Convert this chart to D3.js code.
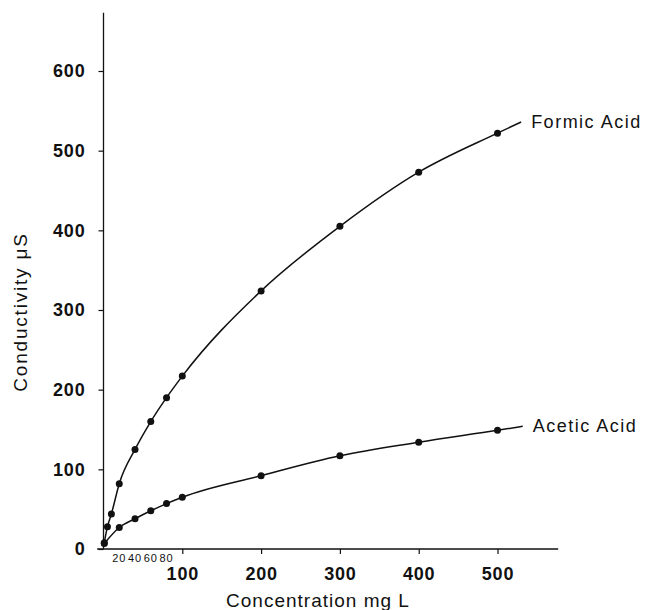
<!DOCTYPE html>
<html>
<head>
<meta charset="utf-8">
<script src="https://cdn.jsdelivr.net/npm/d3@7"></script>
<style>
  body { margin: 0; background: #fff; }
  text { font-family: "Liberation Sans", Arial, Helvetica, sans-serif; fill: #111; }
</style>
</head>
<body>
<div id="chart"></div>
<script>
// values (mg/L vs uS)
var formicConc = [1, 5, 10, 20, 40, 60, 80, 100, 200, 300, 400, 500];
var formicCond = [8, 28, 44, 82, 125, 160, 190, 217, 324, 405, 473, 522];
var aceticConc = [1, 20, 40, 60, 80, 100, 200, 300, 400, 500];
var aceticCond = [7, 27, 38, 48, 57, 65, 92, 117, 134, 149];
// where the drawn curves run out past the last point
var formicEnd = [530, 536];
var aceticEnd = [532, 154];

var yTicks = [0, 100, 200, 300, 400, 500, 600];
var xTicks = [100, 200, 300, 400, 500];
var xSmallTicks = [20, 40, 60, 80];

var width = 646, height = 610;

var svg = d3.select("#chart").append("svg")
    .attr("width", width)
    .attr("height", height);

var x = d3.scaleLinear().domain([0, 500]).range([103.5, 497.5]);
var y = d3.scaleLinear().domain([0, 600]).range([549, 71]);

//axes
var yAxis = d3.axisLeft(y).tickValues(yTicks).tickSize(5).tickPadding(13).tickSizeOuter(0);
var gy = svg.append("g").attr("transform", "translate(" + x(0) + ",0)").call(yAxis);
gy.select(".domain").remove();
gy.append("line")
    .attr("x1", 0).attr("x2", 0)
    .attr("y1", y(0)).attr("y2", y(673))
    .attr("stroke", "#111").attr("stroke-width", 1.3);

var xAxis = d3.axisBottom(x).tickValues(xTicks).tickSize(5).tickPadding(13).tickSizeOuter(0);
var gx = svg.append("g").attr("transform", "translate(0," + y(0) + ")").call(xAxis);
gx.select(".domain").remove();
gx.append("line")
    .attr("x1", x(-8)).attr("x2", x(577))
    .attr("y1", 0).attr("y2", 0)
    .attr("stroke", "#111").attr("stroke-width", 1.3);

svg.selectAll(".tick line").attr("stroke", "#111").attr("stroke-width", 1.2);
svg.selectAll(".tick text")
    .style("font-size", "18px")
    .style("font-weight", "bold")
    .style("letter-spacing", "0.8px")
    .attr("fill", "#111");

gx.selectAll(".small")
    .data(xSmallTicks)
    .enter().append("text")
    .attr("class", "small")
    .attr("x", function(d) { return x(d); })
    .attr("y", 13)
    .attr("text-anchor", "middle")
    .style("font-size", "11px")
    .style("letter-spacing", "0.8px")
    .text(function(d) { return d; });

//axis titles
svg.append("text")
    .attr("transform", "translate(27,312) rotate(-90)")
    .attr("text-anchor", "middle")
    .style("font-size", "19px")
    .style("letter-spacing", "1.8px")
    .text("Conductivity \u03bcS");

svg.append("text")
    .attr("x", 318)
    .attr("y", 607)
    .attr("text-anchor", "middle")
    .style("font-size", "19px")
    .style("letter-spacing", "1px")
    .text("Concentration mg L");

//curves
var line = d3.line()
    .x(function(d) { return x(d[0]); })
    .y(function(d) { return y(d[1]); })
    .curve(d3.curveMonotoneX);

function pairs(xs, ys) {
  return xs.map(function(v, i) { return [v, ys[i]]; });
}

var series = [
  { name: "Formic Acid", pts: pairs(formicConc, formicCond), end: formicEnd },
  { name: "Acetic Acid", pts: pairs(aceticConc, aceticCond), end: aceticEnd }
];

series.forEach(function(s) {
  svg.append("path")
      .datum(s.pts.concat([s.end]))
      .attr("fill", "none")
      .attr("stroke", "#111")
      .attr("stroke-width", 1.5)
      .attr("d", line);

  svg.selectAll(null)
      .data(s.pts)
      .enter().append("circle")
      .attr("cx", function(d) { return x(d[0]); })
      .attr("cy", function(d) { return y(d[1]); })
      .attr("r", 3.5)
      .attr("fill", "#111");

  svg.append("text")
      .attr("x", x(s.end[0]) + 10)
      .attr("y", y(s.end[1]) + 6)
      .style("font-size", "18px")
      .style("letter-spacing", "1.5px")
      .text(s.name);
});
</script>
</body>
</html>
